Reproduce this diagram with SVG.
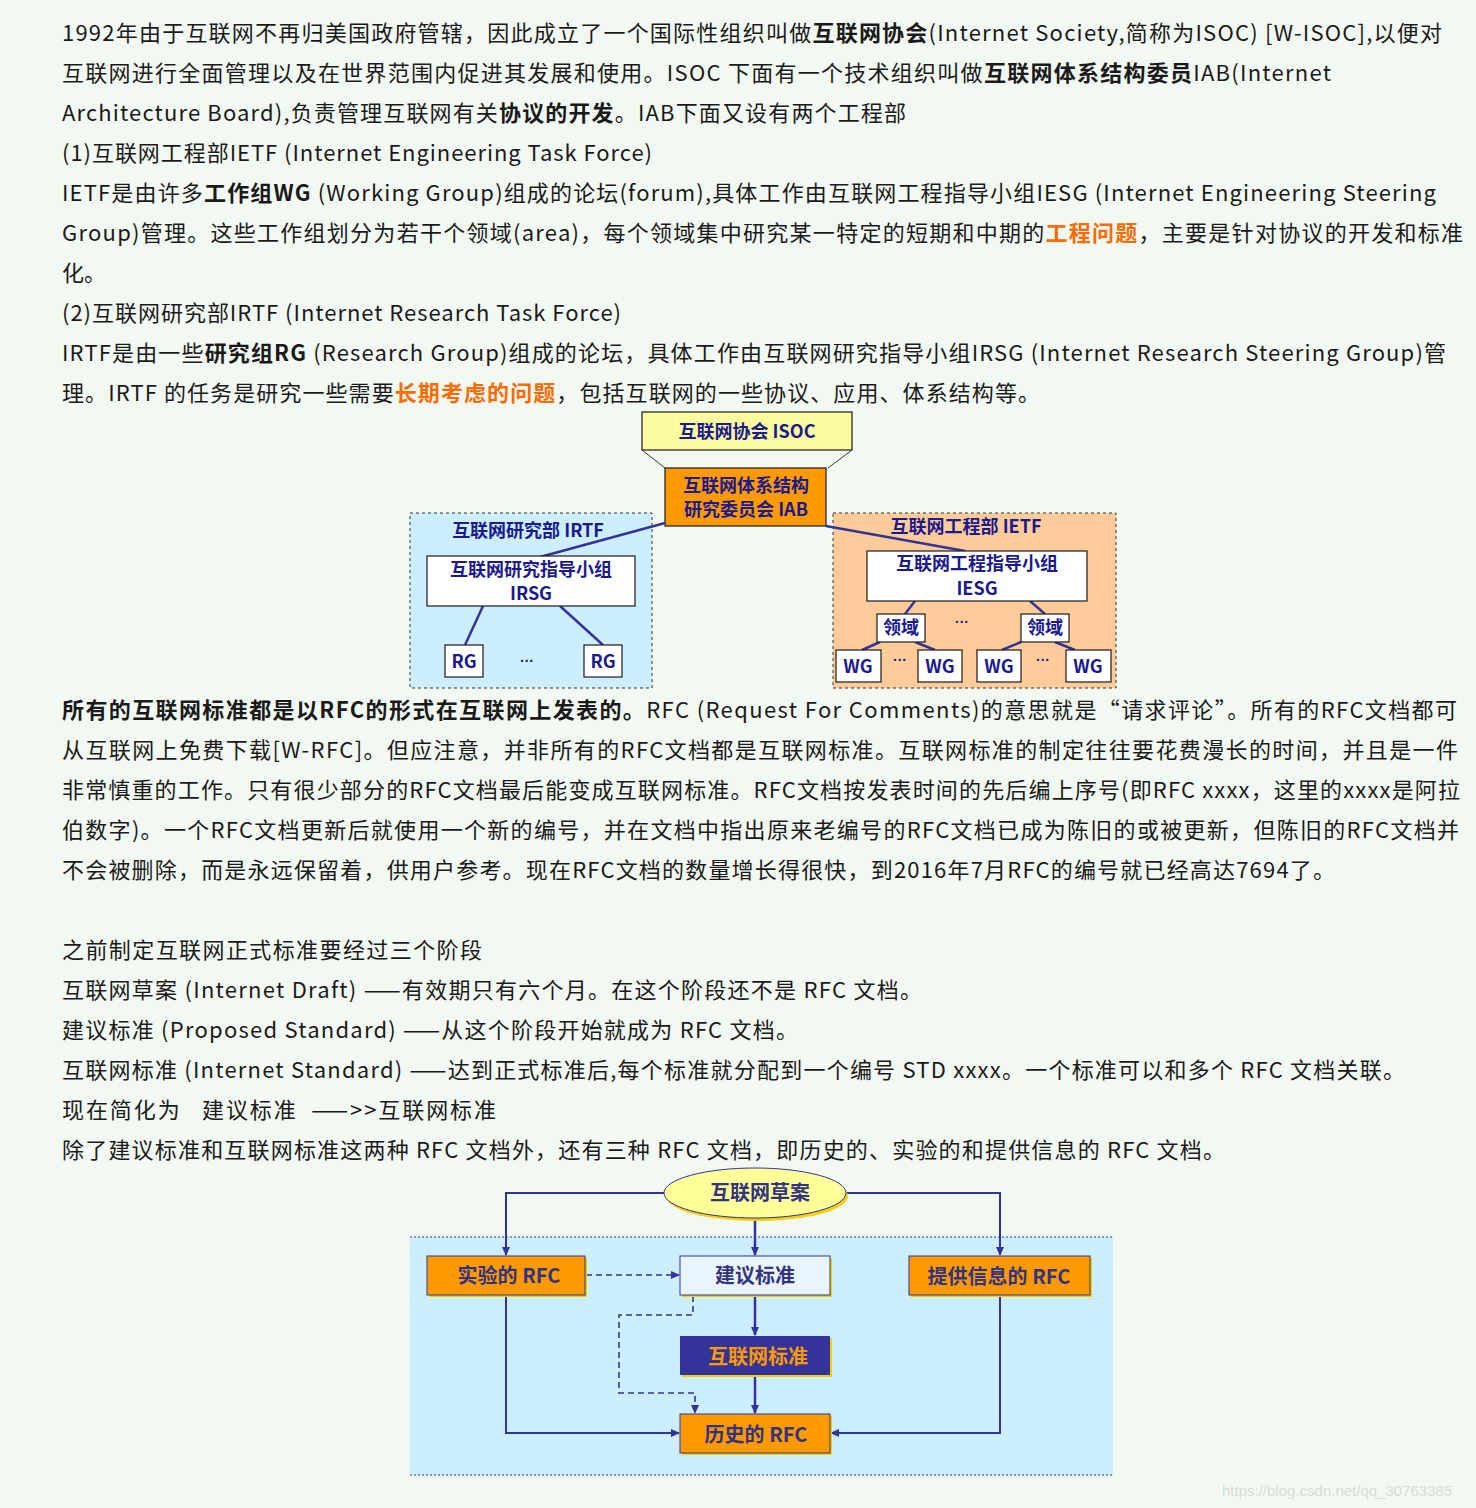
<svg xmlns="http://www.w3.org/2000/svg" width="1476" height="1508" viewBox="0 0 1476 1508">
<style>
.p{font-family:"Noto Sans CJK SC","Noto Sans",sans-serif;font-size:22px;fill:#1a1a1a}
.b{font-weight:bold}
.o{font-weight:bold;fill:#ff6a00}
.d{font-family:"Noto Sans CJK SC",sans-serif;font-weight:bold;font-size:18px;fill:#1a1a8c;text-anchor:middle}
.e{font-family:"Liberation Sans",sans-serif;font-weight:bold;font-size:14px;fill:#1a1a8c;text-anchor:middle}
.bx{stroke:#1a1a1a;stroke-width:1.2}
.ln{stroke:#333399;stroke-width:2.5;fill:none}
.fl{stroke:#333399;stroke-width:2;fill:none}
.dash{stroke:#333399;stroke-width:1.6;fill:none;stroke-dasharray:6 4}
.f{font-family:"Noto Sans CJK SC",sans-serif;font-weight:bold;font-size:20px;fill:#333380;text-anchor:middle}
</style>
<defs>
<marker id="a" markerWidth="10" markerHeight="10" refX="8" refY="5" orient="auto" markerUnits="userSpaceOnUse"><path d="M0,1 L9,5 L0,9 z" fill="#333399"/></marker>
</defs>
<rect width="1476" height="1508" fill="#f2f9f2"/>
<g id="text1">
<text class="p" x="62" y="41" textLength="1380">1992年由于互联网不再归美国政府管辖，因此成立了一个国际性组织叫做<tspan class="b">互联网协会</tspan>(Internet Society,简称为ISOC) [W-ISOC],以便对</text>
<text class="p" x="62" y="81" textLength="1269">互联网进行全面管理以及在世界范围内促进其发展和使用。ISOC 下面有一个技术组织叫做<tspan class="b">互联网体系结构委员</tspan>IAB(Internet</text>
<text class="p" x="62" y="121" textLength="844">Architecture Board),负责管理互联网有关<tspan class="b">协议的开发</tspan>。IAB下面又设有两个工程部</text>
<text class="p" x="62" y="161" textLength="590">(1)互联网工程部IETF (Internet Engineering Task Force)</text>
<text class="p" x="62" y="201" textLength="1374">IETF是由许多<tspan class="b">工作组WG</tspan> (Working Group)组成的论坛(forum),具体工作由互联网工程指导小组IESG (Internet Engineering Steering</text>
<text class="p" x="62" y="241" textLength="1401">Group)管理。这些工作组划分为若干个领域(area)，每个领域集中研究某一特定的短期和中期的<tspan class="o">工程问题</tspan>，主要是针对协议的开发和标准</text>
<text class="p" x="62" y="281">化。</text>
<text class="p" x="62" y="321" textLength="559">(2)互联网研究部IRTF (Internet Research Task Force)</text>
<text class="p" x="62" y="361" textLength="1384">IRTF是由一些<tspan class="b">研究组RG</tspan> (Research Group)组成的论坛，具体工作由互联网研究指导小组IRSG (Internet Research Steering Group)管</text>
<text class="p" x="62" y="401" textLength="978">理。IRTF 的任务是研究一些需要<tspan class="o">长期考虑的问题</tspan>，包括互联网的一些协议、应用、体系结构等。</text>
</g>
<g id="org">
<rect x="410" y="513" width="242" height="175" fill="#cceeff" stroke="#333" stroke-dasharray="3 3"/>
<rect x="833" y="513" width="283" height="175" fill="#ffcc99" stroke="#333" stroke-dasharray="3 3"/>
<g id="isoc"><rect class="bx" x="642" y="412" width="210" height="38" fill="#fafa9e"/><text class="d" x="747" y="438">互联网协会 ISOC</text></g>
<line x1="642" y1="450" x2="665" y2="468" stroke="#333"/><line x1="852" y1="450" x2="828" y2="468" stroke="#333"/>
<g id="iab"><rect class="bx" x="665" y="468" width="161" height="58" fill="#ff9900"/><text class="d" x="746" y="492">互联网体系结构</text><text class="d" x="746" y="516">研究委员会 IAB</text></g>
<g id="conn-org">
<line class="ln" x1="665" y1="523" x2="540" y2="557"/>
<line class="ln" x1="826" y1="526" x2="965" y2="551"/>
<line class="ln" x1="483" y1="606" x2="465" y2="645"/><line class="ln" x1="560" y1="606" x2="603" y2="645"/>
<line class="ln" x1="915" y1="601" x2="905" y2="614"/><line class="ln" x1="1030" y1="601" x2="1045" y2="614"/>
<line class="ln" x1="880" y1="642" x2="862" y2="650"/><line class="ln" x1="915" y1="642" x2="935" y2="650"/>
<line class="ln" x1="1021" y1="642" x2="1002" y2="650"/><line class="ln" x1="1055" y1="642" x2="1075" y2="650"/>
</g>
<text class="d" x="528" y="537">互联网研究部 IRTF</text>
<text class="d" x="966" y="533">互联网工程部 IETF</text>
<g id="irsg"><rect class="bx" x="427" y="556" width="208" height="50" fill="#fff"/><text class="d" x="531" y="576">互联网研究指导小组</text><text class="d" x="531" y="600">IRSG</text></g>
<g id="rg1"><rect class="bx" x="445" y="645" width="38" height="32" fill="#fff"/><text class="d" x="464" y="668">RG</text></g>
<g id="rg2"><rect class="bx" x="584" y="645" width="38" height="32" fill="#fff"/><text class="d" x="603" y="668">RG</text></g>
<text class="e" x="527" y="666">···</text>
<g id="iesg"><rect class="bx" x="867" y="551" width="220" height="50" fill="#fff"/><text class="d" x="977" y="570">互联网工程指导小组</text><text class="d" x="977" y="595">IESG</text></g>
<g id="ly1"><rect class="bx" x="877" y="614" width="48" height="28" fill="#fff"/><text class="d" x="901" y="634">领域</text></g>
<g id="ly2"><rect class="bx" x="1021" y="614" width="48" height="28" fill="#fff"/><text class="d" x="1045" y="634">领域</text></g>
<text class="e" x="962" y="627">···</text>
<g id="wg1"><rect class="bx" x="836" y="650" width="45" height="32" fill="#fff"/><text class="d" x="858" y="673">WG</text></g>
<g id="wg2"><rect class="bx" x="918" y="650" width="44" height="32" fill="#fff"/><text class="d" x="940" y="673">WG</text></g>
<g id="wg3"><rect class="bx" x="977" y="650" width="44" height="32" fill="#fff"/><text class="d" x="999" y="673">WG</text></g>
<g id="wg4"><rect class="bx" x="1066" y="650" width="45" height="32" fill="#fff"/><text class="d" x="1088" y="673">WG</text></g>
<text class="e" x="900" y="665">···</text><text class="e" x="1043" y="665">···</text>
</g>
<g id="text2">
<text class="p" x="62" y="718" textLength="1395"><tspan class="b">所有的互联网标准都是以RFC的形式在互联网上发表的。</tspan>RFC (Request For Comments)的意思就是“请求评论”。所有的RFC文档都可</text>
<text class="p" x="62" y="758" textLength="1396">从互联网上免费下载[W-RFC]。但应注意，并非所有的RFC文档都是互联网标准。互联网标准的制定往往要花费漫长的时间，并且是一件</text>
<text class="p" x="62" y="798" textLength="1398">非常慎重的工作。只有很少部分的RFC文档最后能变成互联网标准。RFC文档按发表时间的先后编上序号(即RFC xxxx，这里的xxxx是阿拉</text>
<text class="p" x="62" y="838" textLength="1397">伯数字)。一个RFC文档更新后就使用一个新的编号，并在文档中指出原来老编号的RFC文档已成为陈旧的或被更新，但陈旧的RFC文档并</text>
<text class="p" x="62" y="878" textLength="1273">不会被删除，而是永远保留着，供用户参考。现在RFC文档的数量增长得很快，到2016年7月RFC的编号就已经高达7694了。</text>
<text class="p" x="62" y="958" textLength="420">之前制定互联网正式标准要经过三个阶段</text>
<text class="p" x="62" y="998" textLength="860">互联网草案 (Internet Draft) ——有效期只有六个月。在这个阶段还不是 RFC 文档。</text>
<text class="p" x="62" y="1038" textLength="736">建议标准 (Proposed Standard) ——从这个阶段开始就成为 RFC 文档。</text>
<text class="p" x="62" y="1078" textLength="1343">互联网标准 (Internet Standard) ——达到正式标准后,每个标准就分配到一个编号 STD xxxx。一个标准可以和多个 RFC 文档关联。</text>
<text class="p" x="62" y="1118" textLength="434" xml:space="preserve">现在简化为   建议标准  ——&gt;&gt;互联网标准</text>
<text class="p" x="62" y="1158" textLength="1163">除了建议标准和互联网标准这两种 RFC 文档外，还有三种 RFC 文档，即历史的、实验的和提供信息的 RFC 文档。</text>
</g>
<g id="flow">
<rect x="410" y="1237" width="703" height="238" fill="#cceeff"/>
<line x1="410" y1="1237" x2="1113" y2="1237" stroke="#333399" stroke-dasharray="2 2"/>
<line x1="410" y1="1475" x2="1113" y2="1475" stroke="#333399" stroke-dasharray="2 2"/>
<g id="conn-flow">
<polyline class="fl" points="664,1193 506,1193 506,1255" marker-end="url(#a)"/>
<polyline class="fl" points="846,1193 1000,1193 1000,1255" marker-end="url(#a)"/>
<line class="ln" x1="755" y1="1219" x2="755" y2="1255" stroke-width="4" marker-end="url(#a)"/>
<line class="ln" x1="755" y1="1295" x2="755" y2="1335" stroke-width="4" marker-end="url(#a)"/>
<line class="ln" x1="755" y1="1375" x2="755" y2="1413" stroke-width="4" marker-end="url(#a)"/>
<polyline class="fl" points="506,1296 506,1433 679,1433" marker-end="url(#a)"/>
<polyline class="fl" points="1000,1296 1000,1433 831,1433" marker-end="url(#a)"/>
<line class="dash" x1="586" y1="1275" x2="679" y2="1275" marker-end="url(#a)"/>
<polyline class="dash" points="693,1296 693,1315 619,1315 619,1393 695,1393 695,1413" marker-end="url(#a)"/>
</g>
<g id="draft"><ellipse cx="757" cy="1196" rx="91" ry="25" fill="#f5d000"/><ellipse cx="755" cy="1193" rx="91" ry="25" fill="#ffff99" stroke="#333399"/><text class="f" x="760" y="1200">互联网草案</text></g>
<g id="exp"><rect x="429" y="1258" width="158" height="39" fill="#f5d000"/><rect x="427" y="1256" width="158" height="39" fill="#ff9900" stroke="#333399"/><text class="f" x="509" y="1283">实验的 RFC</text></g>
<g id="prop"><rect x="682" y="1258" width="150" height="39" fill="#f5d000"/><rect x="680" y="1256" width="150" height="39" fill="#e8f4ff" stroke="#333399"/><text class="f" x="755" y="1283">建议标准</text></g>
<g id="info"><rect x="911" y="1258" width="181" height="39" fill="#f5d000"/><rect x="909" y="1256" width="181" height="39" fill="#ff9900" stroke="#333399"/><text class="f" x="999" y="1284">提供信息的 RFC</text></g>
<g id="std"><rect x="682" y="1338" width="150" height="39" fill="#f5d000"/><rect x="680" y="1336" width="150" height="39" fill="#333399"/><text class="f" x="758" y="1364" style="fill:#ff9900">互联网标准</text></g>
<g id="hist"><rect x="682" y="1416" width="150" height="39" fill="#f5d000"/><rect x="680" y="1414" width="150" height="39" fill="#ff9900" stroke="#333399"/><text class="f" x="756" y="1442">历史的 RFC</text></g>
</g>
<text x="1222" y="1496" font-family="Liberation Sans,sans-serif" font-size="15" fill="#d8dcd8">https://blog.csdn.net/qq_30763385</text>
</svg>
